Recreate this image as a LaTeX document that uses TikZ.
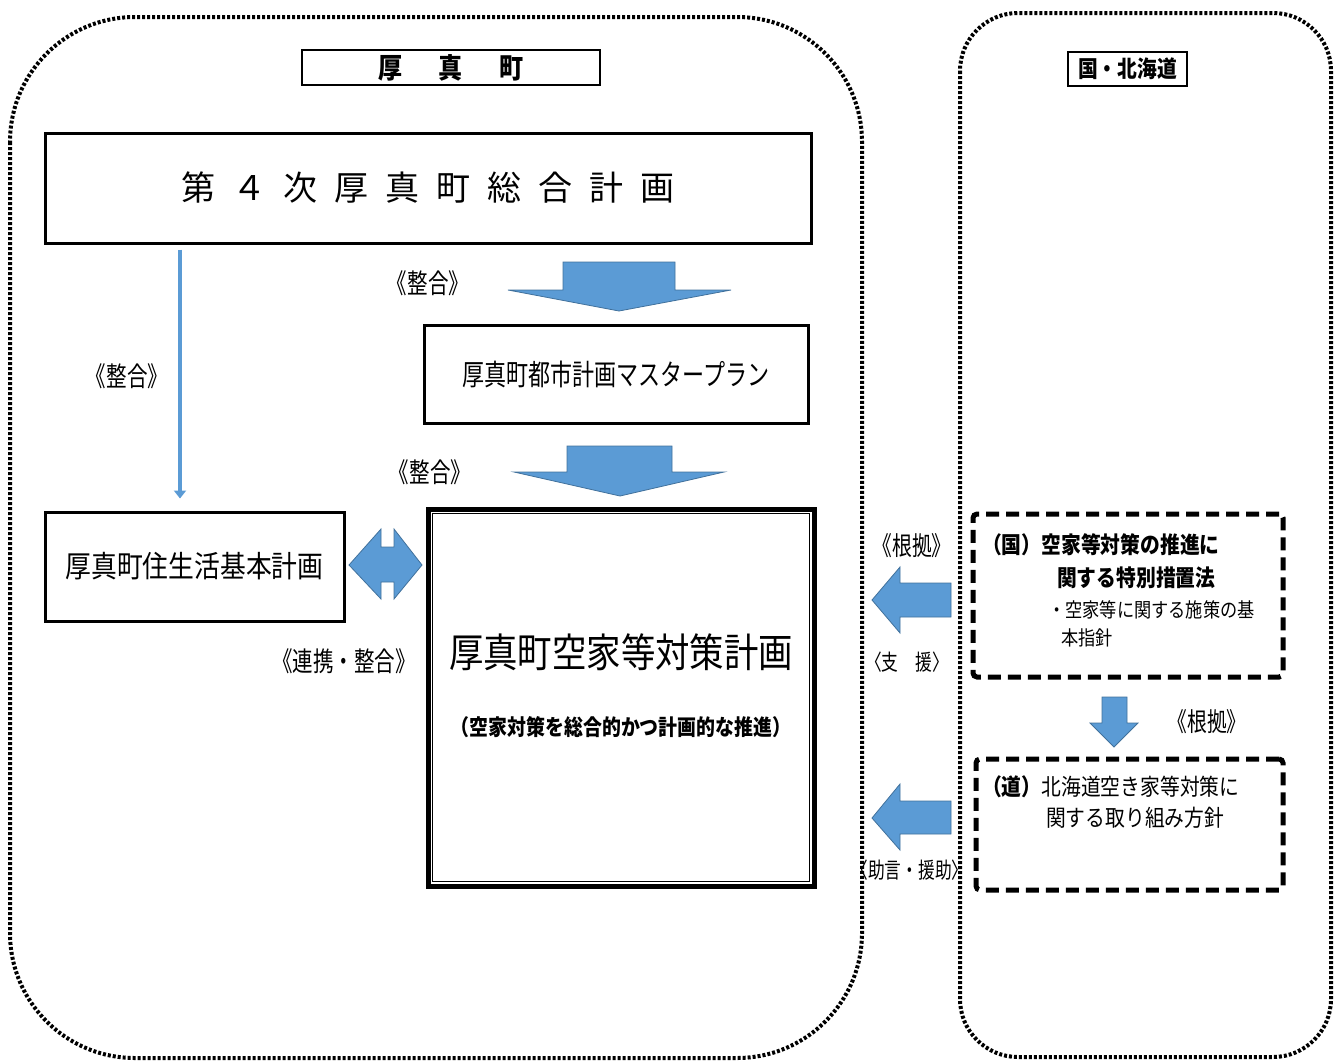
\documentclass[tikz,border=0pt]{standalone}
\usepackage{fontspec}
\setmainfont{Noto Sans CJK JP}
\newfontfamily\jpn{Noto Sans CJK JP}[FakeStretch=0.86]
\newfontfamily\jpc{Noto Sans CJK JP}[FakeStretch=0.76]
\usetikzlibrary{arrows.meta}
\definecolor{arrowblue}{RGB}{91,155,213}
\definecolor{arrowedge}{RGB}{65,113,156}
\newcommand\jsize[1]{\fontsize{#1}{#1}\selectfont}
\newcommand\jgap{\hspace{17pt}}
\begin{document}
\begin{tikzpicture}[x=1pt,y=-1pt,
  region/.style={draw, line width=4pt, dash pattern=on 3pt off 2pt},
  ttlbox/.style={draw, line width=2.5pt, inner sep=0pt, fill=white},
  plan/.style={draw, line width=3pt, inner sep=0pt, fill=white},
  lawbox/.style={draw, line width=5pt, dash pattern=on 13pt off 7pt, rounded corners=4pt, inner sep=0pt},
  blockarrow/.style={fill=arrowblue, draw=arrowedge, line width=0.8pt},
  thinarrow/.style={draw=arrowblue, line width=4pt, -{Triangle[width=12pt,length=8pt]}},
  lbl/.style={inner sep=0pt, font=\jpc\jsize{27}},
  smalllbl/.style={inner sep=0pt, font=\jpc\jsize{22}},
  txtline/.style={inner sep=0pt, anchor=west}
]
\useasboundingbox (0,0) rectangle (1338,1061);

% dotted regions
\draw[region, rounded corners=125pt] (10,17) rectangle (862,1058);
\draw[region, rounded corners=58pt] (960,13) rectangle (1331,1057);

% headers
\node[ttlbox, minimum width=298pt, minimum height=35pt, font=\jpn\bfseries\jsize{28}] (town) at (451,67.5) {厚\hspace{36pt}真\hspace{36pt}町};
\node[ttlbox, minimum width=119pt, minimum height=34pt, font=\jpn\bfseries\jsize{23}] (kuni) at (1127.5,69) {国・北海道};

% plans
\node[plan, minimum width=766pt, minimum height=110pt, font=\jsize{34}] (sogo) at (428,188) {第\jgap ４\jgap 次\jgap 厚\jgap 真\jgap 町\jgap 総\jgap 合\jgap 計\jgap 画};
\node[plan, minimum width=384pt, minimum height=98pt, font=\jpc\jsize{29}] (master) at (616,374) {厚真町都市計画マスタープラン};
\node[plan, minimum width=299pt, minimum height=109pt, font=\jpn\jsize{30}] (jyu) at (194.5,566.5) {厚真町住生活基本計画};
\node[plan, line width=5pt, minimum width=386pt, minimum height=377pt] (akiya) at (621,697.5) {};
\draw[line width=1.2pt] ([shift={(7,7)}]akiya.north west) rectangle ([shift={(-7,-7)}]akiya.south east);
\node[inner sep=0pt, font=\jpn\jsize{40}] (akiyaTtl) at (621,652) {厚真町空家等対策計画};
\node[inner sep=0pt, font=\jpn\bfseries\jsize{22}] (akiyaSub) at (621,727) {（空家対策を総合的かつ計画的な推進）};

% law boxes
\node[lawbox, minimum width=310pt, minimum height=163pt] (kunilaw) at (1128,595.5) {};
\node[lawbox, minimum width=307pt, minimum height=131pt] (dolaw) at (1129.5,824.5) {};
\node[txtline, font=\jpn\bfseries\jsize{23}] (kl1) at (982,545) {（国）空家等対策の推進に};
\node[txtline, font=\jpn\bfseries\jsize{23}] (kl2) at (1057,578) {関する特別措置法};
\node[txtline, font=\jpn\jsize{20}] (kl3) at (1048,610) {・空家等に関する施策の基};
\node[txtline, font=\jpn\jsize{20}] (kl4) at (1061,638) {本指針};
\node[txtline, font=\jpn\jsize{23}] (dl1) at (982,787) {{\bfseries （道）}北海道空き家等対策に};
\node[txtline, font=\jpn\jsize{23}] (dl2) at (1046,818) {関する取り組み方針};

% block arrows
\draw[blockarrow] (563,262) -- (675,262) -- (675,290) -- (731,290) -- (619,311) -- (508,290) -- (563,290) -- cycle;
\draw[blockarrow] (567,446) -- (672,446) -- (672,472) -- (724,472) -- (620,496) -- (514,472) -- (567,472) -- cycle;
\draw[blockarrow] (349,565) -- (381,529) -- (381,547) -- (394,547) -- (394,529) -- (422,565) -- (394,599) -- (394,582) -- (381,582) -- (381,599) -- cycle;
\draw[blockarrow] (872,600) -- (900,567) -- (900,583) -- (951,583) -- (951,617) -- (900,617) -- (900,633) -- cycle;
\draw[blockarrow] (872,818) -- (900,784) -- (900,801) -- (951,801) -- (951,834) -- (900,834) -- (900,850) -- cycle;
\draw[blockarrow] (1102,697) -- (1127,697) -- (1127,723) -- (1138,723) -- (1114,747) -- (1090,723) -- (1102,723) -- cycle;

% thin arrow
\coordinate (thinx) at (180,0);
\draw[thinarrow, shorten <=5pt, shorten >=12pt] (sogo.south -| thinx) -- (jyu.north -| thinx);

% labels
\node[lbl] (lbA) at (428,283) {《整合》};
\node[lbl] (lbB) at (127,376) {《整合》};
\node[lbl] (lbC) at (430,472) {《整合》};
\node[lbl] (lbD) at (344,661) {《連携・整合》};
\node[lbl, font=\jpc\jsize{26}] (lbE) at (912,546) {《根拠》};
\node[smalllbl] (lbF) at (907,662) {〈支　援〉};
\node[smalllbl] (lbG) at (910,870) {〈助言・援助〉};
\node[lbl, font=\jpc\jsize{26}] (lbH) at (1207,722) {《根拠》};
\end{tikzpicture}
\end{document}
